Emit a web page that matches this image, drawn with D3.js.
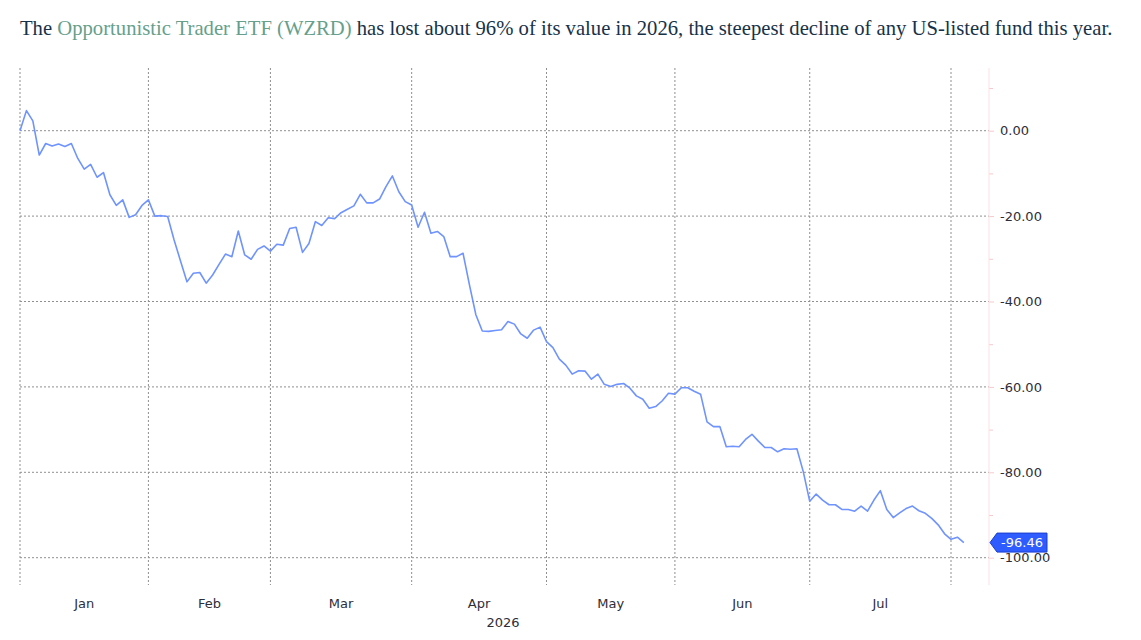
<!DOCTYPE html>
<html>
<head>
<meta charset="utf-8">
<script src="https://cdn.jsdelivr.net/npm/d3@7"></script>
<style>
  body { margin: 0; background: #fff; }
  svg { display: block; }
  .grid line { stroke: #8f8f8f; stroke-dasharray: 2,2; stroke-width: 1; }
  .lbl { font-family: "DejaVu Sans", Verdana, sans-serif; font-size: 13px; fill: #2e2e38; }
</style>
</head>
<body>
<div id="chart"></div>
<script>
// rendimiento acumulado (%) por dia habil, desde el cierre previo a enero
const values = [
  0, 4.7, 2.3, -5.7, -3, -3.6, -3.1, -3.7, -3, -6.5,
  -9, -7.9, -10.9, -9.8, -15, -17.5, -16.2, -20.3, -19.7, -17.5,
  -16.2, -20, -19.9, -20.1, -25.6, -30.5, -35.4, -33.4, -33.2, -35.7,
  -33.8, -31.3, -28.9, -29.5, -23.5, -29.1, -30.1, -27.8, -27, -28.2,
  -26.6, -26.8, -22.9, -22.6, -28.5, -26.4, -21.3, -22.2, -20.4, -20.6,
  -19.2, -18.4, -17.6, -14.9, -16.9, -16.9, -16, -13.1, -10.6, -14.3,
  -16.6, -17.4, -22.6, -19.1, -24, -23.6, -24.8, -29.5, -29.5, -28.7,
  -36.1, -43.1, -46.9, -47, -46.8, -46.6, -44.7, -45.3, -47.6, -48.6,
  -46.7, -46, -49.4, -50.8, -53.5, -54.9, -57, -56.2, -56.3, -58.2,
  -57, -59.4, -59.9, -59.4, -59.2, -60.3, -62.1, -62.9, -65, -64.6,
  -63.3, -61.5, -61.7, -60.2, -60.2, -61, -61.7, -68.2, -69.3, -69.3,
  -74, -73.9, -74, -72.3, -71.1, -72.7, -74.2, -74.2, -75.2, -74.5,
  -74.6, -74.5, -79.9, -86.8, -85.1, -86.5, -87.6, -87.6, -88.7, -88.7,
  -89.1, -87.9, -89.1, -86.5, -84.3, -88.7, -90.6, -89.5, -88.5, -87.9,
  -89, -89.6, -90.8, -92.3, -94.4, -95.7, -95.2, -96.46
];
const monthLabels = ["Jan", "Feb", "Mar", "Apr", "May", "Jun", "Jul"];
// indice del primer dia habil de cada mes (el ultimo es agosto)
const monthStarts = [0, 20, 39, 61, 82, 102, 123, 145];
const yearLabel = "2026";
const yMajorTicks = [0, -20, -40, -60, -80, -100];
const yMinorTicks = [10, -10, -30, -50, -70, -90];
const lastValue = values[values.length - 1];

const W = 1141, H = 640;
const plotTop = 68, plotBottom = 585, axisX = 989;

const svg = d3.select("#chart").append("svg").attr("width", W).attr("height", H);

// escaladores
const x = d3.scaleLinear().domain([0, 145]).range([20, 951]);
const y = d3.scaleLinear().domain([0, -100]).range([130.7, 557.7]);

// titulo
const title = svg.append("text")
  .attr("x", 20).attr("y", 35)
  .style("font-family", "'Liberation Serif', 'DejaVu Serif', serif")
  .style("font-size", "17px")
  .attr("fill", "#173248");
title.append("tspan").text("The ");
title.append("tspan").attr("fill", "#66a08c").text("Opportunistic Trader ETF (WZRD)");
title.append("tspan").text(" has lost about 96% of its value in 2026, the steepest decline of any US-listed fund this year.");
// ajustar el tamaño al ancho del original
const tw = title.node().getComputedTextLength();
title.style("font-size", (17 * 1093 / tw).toFixed(2) + "px");

// rejilla
const grid = svg.append("g").attr("class", "grid");
grid.selectAll("line.v").data(monthStarts).join("line").attr("class", "v")
  .attr("x1", d => x(d)).attr("x2", d => x(d))
  .attr("y1", plotTop).attr("y2", plotBottom);
grid.selectAll("line.h").data(yMajorTicks).join("line").attr("class", "h")
  .attr("x1", x(0)).attr("x2", axisX)
  .attr("y1", d => y(d)).attr("y2", d => y(d));

// eje derecho
const yAxisG = svg.append("g").attr("transform", `translate(${axisX},0)`);
yAxisG.call(d3.axisRight(y).tickValues(yMajorTicks).tickSize(5).tickPadding(6)
  .tickFormat(d => d.toFixed(2)));
const yMinorG = svg.append("g").attr("transform", `translate(${axisX},0)`);
yMinorG.call(d3.axisRight(y).tickValues(yMinorTicks).tickSize(4).tickFormat(""));
[yAxisG, yMinorG].forEach(g => {
  g.select(".domain").remove();
  g.selectAll(".tick line").attr("stroke", "#f7c9cc");
});
yAxisG.selectAll(".tick text").attr("class", "lbl").attr("font-family", null).attr("font-size", null);
svg.append("line")
  .attr("x1", axisX).attr("x2", axisX).attr("y1", plotTop).attr("y2", plotBottom)
  .attr("stroke", "#fde0e2");

// etiquetas de meses, centradas entre lineas
svg.selectAll("text.month").data(monthLabels).join("text")
  .attr("class", "month lbl")
  .attr("x", (d, i) => (x(monthStarts[i]) + x(monthStarts[i + 1])) / 2)
  .attr("y", 608)
  .attr("text-anchor", "middle")
  .text(d => d);
svg.append("text").attr("class", "lbl")
  .attr("x", 503).attr("y", 627).attr("text-anchor", "middle")
  .text(yearLabel);

// serie
const line = d3.line().x((d, i) => x(i)).y(d => y(d));
svg.append("path").datum(values)
  .attr("d", line)
  .attr("fill", "none")
  .attr("stroke", "#6f93ff")
  .attr("stroke-width", 1.6)
  .attr("stroke-linejoin", "round");

// marcador del ultimo valor
const ly = y(lastValue);
const tag = svg.append("g").attr("transform", `translate(${axisX + 1},${ly})`);
tag.append("path")
  .attr("d", "M0,0 L7,-9.5 L57,-9.5 L57,9.5 L7,9.5 Z")
  .attr("fill", "#2f5cff").attr("stroke", "#1a3fcf").attr("stroke-width", 1);
tag.append("text")
  .attr("x", 32).attr("y", 4.6).attr("text-anchor", "middle")
  .attr("class", "lbl").style("fill", "#fff")
  .text(lastValue.toFixed(2));
</script>
</body>
</html>
